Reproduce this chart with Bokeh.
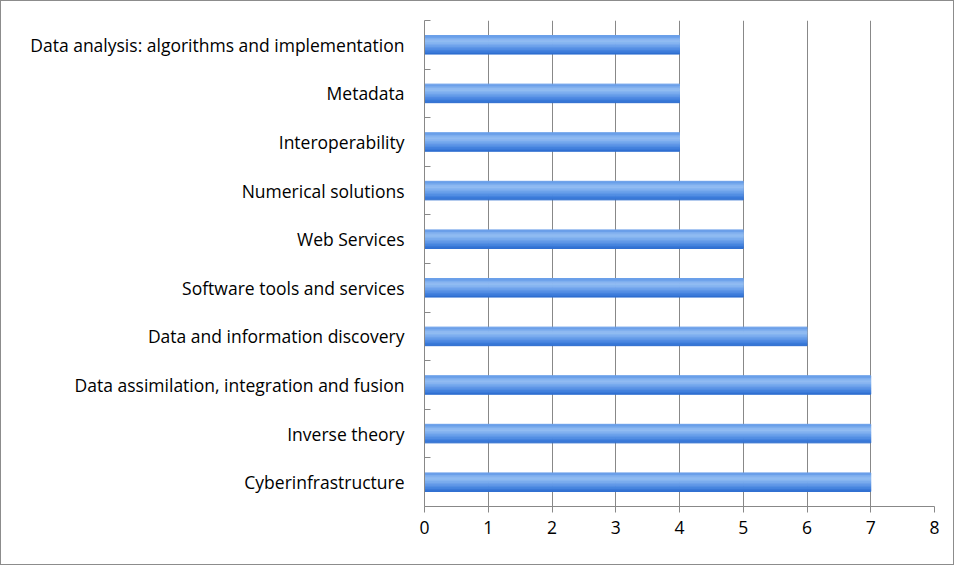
from bokeh.plotting import figure
from bokeh.models import FixedTicker
from bokeh.embed import file_html
from bokeh.resources import INLINE

# bottom to top
categories = ["Cyberinfrastructure", "Inverse theory",
              "Data assimilation, integration and fusion",
              "Data and information discovery", "Software tools and services",
              "Web Services", "Numerical solutions", "Interoperability",
              "Metadata", "Data analysis: algorithms and implementation"]
counts = [7, 7, 7, 6, 5, 5, 5, 4, 4, 4]
x_ticks = [0, 1, 2, 3, 4, 5, 6, 7, 8]

centers = [i + 0.5 for i in range(len(categories))]

p = figure(width=954, height=565, x_range=(0, 8), y_range=(0, len(categories)),
           output_backend="svg", toolbar_location=None,
           min_border_left=423, min_border_right=21, min_border_top=19,
           min_border_bottom=60)
p.outline_line_color = None
p.styles = {"border": "1px solid #8c8c8c", "box-sizing": "border-box"}

# vertical gradient drawn as thin strips (bottom dark -> top light -> dark edge)
bar_h = 0.38
strip_colors = ["#2f6fd0", "#3a79d8", "#4583de", "#528de3", "#5f97e7",
                "#6ca1ea", "#79abee", "#86b4f0", "#91bcf2", "#8cb8f1",
                "#7eaeee", "#6a9fe9"]
n = len(strip_colors)
sh = bar_h / n
for k, col in enumerate(strip_colors):
    offs = -bar_h / 2 + sh * (k + 0.5)
    p.hbar(y=[c + offs for c in centers], right=counts, left=0,
           height=sh * 1.05, color=col)

p.xaxis.ticker = FixedTicker(ticks=x_ticks)
p.yaxis.ticker = FixedTicker(ticks=centers, minor_ticks=list(range(len(categories) + 1)))
p.yaxis.major_label_overrides = {c: nm for c, nm in zip(centers, categories)}
p.yaxis.major_tick_in = 0
p.yaxis.major_tick_out = 0
p.yaxis.minor_tick_in = 6
p.yaxis.minor_tick_out = 0
p.xaxis.major_tick_in = 0
p.xaxis.major_tick_out = 6

for ax in (p.xaxis, p.yaxis):
    ax.axis_line_color = "#888888"
    ax.major_tick_line_color = "#888888"
    ax.minor_tick_line_color = "#888888"
    ax.major_label_text_font = "Open Sans"
    ax.major_label_text_font_size = "17.5px"
    ax.major_label_text_color = "#000000"
p.xaxis.minor_tick_line_color = None
p.yaxis.major_label_standoff = 20
p.xaxis.major_label_standoff = 8

p.xgrid.grid_line_color = "#888888"
p.xgrid.ticker = FixedTicker(ticks=x_ticks)
p.ygrid.grid_line_color = None

open("out.html", "w").write(file_html(p, INLINE))
